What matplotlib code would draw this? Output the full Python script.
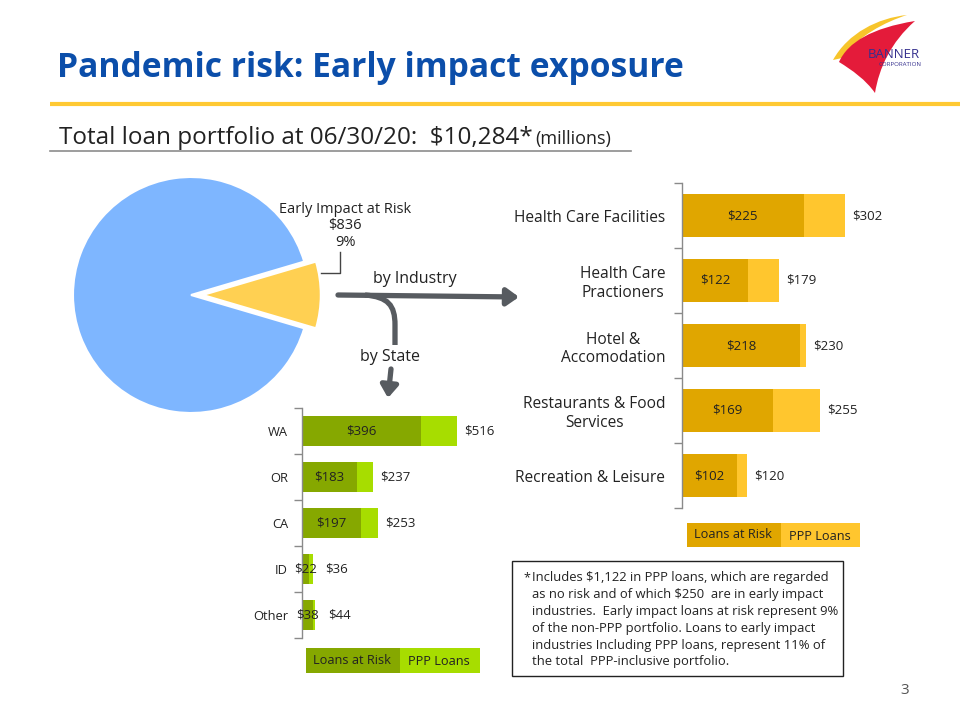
import matplotlib
matplotlib.use("Agg")
import matplotlib.pyplot as plt
import numpy as np
from matplotlib.patches import Rectangle, PathPatch, FancyArrowPatch
from matplotlib.path import Path

plt.rcParams['font.family'] = ['Open Sans', 'DejaVu Sans']
plt.rcParams['text.parse_math'] = False

# ---------------- data ----------------
total_portfolio = 10284
ppp_total = 1122
early_impact_at_risk = 836
pie_values = [early_impact_at_risk, total_portfolio - ppp_total - early_impact_at_risk]
pie_label = "Early Impact at Risk\n$836\n9%"

industries = ["Health Care Facilities", "Health Care\nPractioners", "Hotel &\nAccomodation",
              "Restaurants & Food\nServices", "Recreation & Leisure"]
ind_at_risk = [225, 122, 218, 169, 102]
ind_total = [302, 179, 230, 255, 120]

states = ["WA", "OR", "CA", "ID", "Other"]
state_at_risk = [396, 183, 197, 22, 38]
state_total = [516, 237, 253, 36, 44]

legend_labels = ["Loans at Risk", "PPP Loans"]

footnote_lines = [
    "Includes $1,122 in PPP loans, which are regarded",
    "as no risk and of which $250  are in early impact",
    "industries.  Early impact loans at risk represent 9%",
    "of the non-PPP portfolio. Loans to early impact",
    "industries Including PPP loans, represent 11% of",
    "the total  PPP-inclusive portfolio.",
]

# ---------------- colours ----------------
TITLE_BLUE = "#0B4EAA"
GOLD_LINE = "#FFC933"
PIE_BLUE = "#7EB6FF"
PIE_YELLOW = "#FFD052"
IND_DARK = "#E0A600"
IND_LIGHT = "#FFC62E"
ST_DARK = "#86A800"
ST_LIGHT = "#A7DD00"
ARROW_GRAY = "#575B60"
TEXT = "#222222"

W, H = 960, 720
fig = plt.figure(figsize=(9.6, 7.2), dpi=100)

def rect_px(left, top, width, height):
    return [left / W, 1 - (top + height) / H, width / W, height / H]

# overlay in pixel coordinates for decorations
ov = fig.add_axes([0, 0, 1, 1])
ov.set_xlim(0, W)
ov.set_ylim(H, 0)
ov.axis('off')

# title
ov.text(57, 77, "Pandemic risk: Early impact exposure", fontsize=24.2, fontweight='bold',
        color=TITLE_BLUE, ha='left', va='baseline')
ov.plot([50, 960], [104, 104], color=GOLD_LINE, lw=3, solid_capstyle='butt')
# subtitle
sub = ov.text(59, 144, "Total loan portfolio at 06/30/20:  $10,284*", fontsize=17.5,
              color=TEXT, ha='left', va='baseline')
fig.canvas.draw()
bb = sub.get_window_extent()
ov.text(bb.x1 + 3, 144, "(millions)", fontsize=13, color=TEXT, ha='left', va='baseline')
ov.plot([50, 631], [150.5, 150.5], color="#8C8C8C", lw=1.2)

# logo
yel = Path([(833, 60), (848, 33), (878, 18), (907, 15), (885, 22), (858, 36), (842, 58), (833, 60)],
           [Path.MOVETO, Path.CURVE4, Path.CURVE4, Path.CURVE4, Path.CURVE4, Path.CURVE4, Path.CURVE4,
            Path.CLOSEPOLY])
ov.add_patch(PathPatch(yel, facecolor="#F7C52B", edgecolor='none'))
red = Path([(915, 21), (872, 28), (848, 42), (839, 62),
            (852, 70), (866, 80), (875, 93),
            (879, 68), (891, 42), (915, 21)],
           [Path.MOVETO, Path.CURVE4, Path.CURVE4, Path.CURVE4,
            Path.CURVE4, Path.CURVE4, Path.CURVE4,
            Path.CURVE4, Path.CURVE4, Path.CURVE4])
ov.add_patch(PathPatch(red, facecolor="#E41B3A", edgecolor='none'))
ov.text(894, 55, "BANNER", fontsize=9.5, color="#35308E", ha='center', va='center')
ov.text(900, 64, "CORPORATION", fontsize=4.4, color="#35308E", ha='center', va='center')

# page number
ov.text(905, 690, "3", fontsize=11, color="#555555", ha='center', va='center')

# ---------------- pie ----------------
pcx, pcy, R = 191, 295, 118
pax = fig.add_axes(rect_px(pcx - R * 1.1, pcy - R * 1.1, 2.2 * R, 2.2 * R))
pax.pie(pie_values, colors=[PIE_YELLOW, PIE_BLUE], startangle=-16.4, counterclock=True,
        explode=[0.1, 0], radius=1, wedgeprops=dict(edgecolor='white', linewidth=1.5))
pax.set_xlim(-1.1, 1.1)
pax.set_ylim(-1.1, 1.1)
pax.set_aspect('equal')
pax.axis('off')

ov.text(345, 226, pie_label, fontsize=10.5, color=TEXT, ha='center', va='center', linespacing=1.15)
ov.plot([321, 340, 340], [273, 273, 252], color="#444444", lw=1)

# arrows
astyle = '-|>,head_length=4.5,head_width=3.2'
ov.add_patch(FancyArrowPatch((338, 295), (519, 297), arrowstyle=astyle,
                             mutation_scale=1.6, lw=3.8, color=ARROW_GRAY, shrinkA=0, shrinkB=0))
branch = Path([(365, 295), (388, 297), (395, 305), (395, 325), (395, 345)],
              [Path.MOVETO, Path.CURVE4, Path.CURVE4, Path.CURVE4, Path.LINETO])
ov.add_patch(PathPatch(branch, facecolor='none', edgecolor=ARROW_GRAY, lw=3.8, capstyle='butt'))
ov.add_patch(FancyArrowPatch((391, 369), (388, 398), arrowstyle=astyle,
                             mutation_scale=1.6, lw=3.8, color=ARROW_GRAY, shrinkA=0, shrinkB=0))
ov.text(415, 279, "by Industry", fontsize=11.5, color=TEXT, ha='center', va='center')
ov.text(390, 357, "by State", fontsize=11.5, color=TEXT, ha='center', va='center')


def bar_panel(rect, cats, at_risk, totals, xmax, px_width, dark, light, label_fs, cat_fs):
    ax = fig.add_axes(rect)
    y = np.arange(len(cats))
    ppp = [t - a for t, a in zip(totals, at_risk)]
    ax.barh(y, at_risk, height=0.66, color=dark, zorder=2)
    ax.barh(y, ppp, left=at_risk, height=0.66, color=light, zorder=2)
    ax.set_xlim(0, xmax)
    ax.set_ylim(len(cats) - 0.5, -0.5)
    for s in ['top', 'right', 'bottom']:
        ax.spines[s].set_visible(False)
    ax.spines['left'].set_color('#8A8A8A')
    ax.spines['left'].set_linewidth(1)
    ax.set_xticks([])
    ax.set_yticks(y)
    ax.set_yticklabels(cats, fontsize=cat_fs, color=TEXT, multialignment='center')
    ax.tick_params(axis='y', which='major', length=0, pad=12)
    ax.set_yticks(np.arange(-0.5, len(cats)), minor=True)
    ax.tick_params(axis='y', which='minor', length=6, color='#8A8A8A', width=1)
    ax.patch.set_alpha(0)
    for yi, a, t in zip(y, at_risk, totals):
        ax.text(a / 2, yi, f"${a}", ha='center', va='center', fontsize=label_fs, color=TEXT, zorder=3)
        gap = 5 if t * px_width / xmax > 30 else 9
        ax.annotate(f"${t}", xy=(t, yi), xytext=(gap, 0), textcoords='offset points',
                    ha='left', va='center', fontsize=label_fs, color=TEXT)
    return ax

ind_ax = bar_panel(rect_px(682, 183, 200, 325), industries, ind_at_risk, ind_total, 370, 200,
                   IND_DARK, IND_LIGHT, 9.5, 11.2)
st_ax = bar_panel(rect_px(302, 408, 200, 230), states, state_at_risk, state_total, 667, 200,
                  ST_DARK, ST_LIGHT, 9.5, 9.3)
st_ax.tick_params(axis='y', which='major', pad=10)

# legends
def legend_box(x0, xm, x1, y0, y1, dark, light):
    ov.add_patch(Rectangle((x0, y0), xm - x0, y1 - y0, facecolor=dark, edgecolor='none'))
    ov.add_patch(Rectangle((xm, y0), x1 - xm, y1 - y0, facecolor=light, edgecolor='none'))
    ov.text(x0 + 7, (y0 + y1) / 2, legend_labels[0], fontsize=9.2, color=TEXT, ha='left', va='center')
    ov.text(xm + 8, (y0 + y1) / 2 + 1, legend_labels[1], fontsize=9.2, color=TEXT, ha='left', va='center')

legend_box(687, 781, 860, 523, 547, IND_DARK, IND_LIGHT)
legend_box(306, 400, 480, 648, 673, ST_DARK, ST_LIGHT)

# footnote box
ov.add_patch(Rectangle((512, 561), 331, 115, facecolor='white', edgecolor='#222222', lw=1))
ov.text(523, 578, "*", fontsize=9, color=TEXT, ha='left', va='center')
for i, line in enumerate(footnote_lines):
    ov.text(532, 578 + i * 16.8, line, fontsize=9.4, color=TEXT, ha='left', va='center')

fig.savefig("out.png", dpi=100)
